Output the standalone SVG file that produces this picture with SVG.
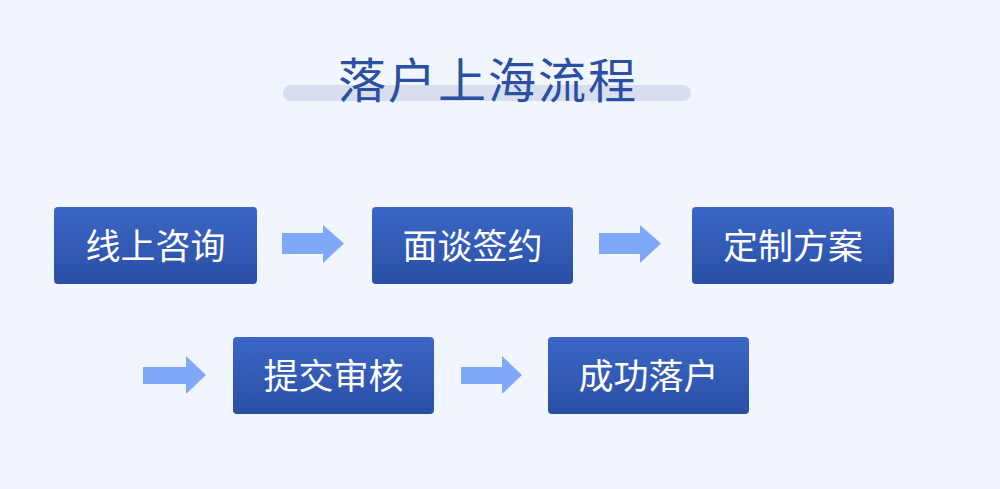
<svg xmlns="http://www.w3.org/2000/svg" width="1000" height="489" viewBox="0 0 1000 489">
<defs>
<linearGradient id="g" x1="0" y1="0" x2="0" y2="1">
<stop offset="0" stop-color="#3c67c6"/>
<stop offset="1" stop-color="#2a4ea5"/>
</linearGradient>
<style>
.box{fill:url(#g);}
.lbl{font-family:"Noto Sans CJK SC","Noto Sans",sans-serif;font-size:35px;fill:#ffffff;text-anchor:middle;dominant-baseline:central;}
.arr{fill:#7fa8f8;}
.title{font-family:"Noto Sans CJK SC","Noto Sans",sans-serif;font-size:48px;fill:#2a4fa3;text-anchor:middle;letter-spacing:2px;}
</style>
</defs>
<rect width="1000" height="489" fill="#f1f6fe"/>
<g id="title">
<rect x="283" y="85" width="408" height="16" rx="8" fill="#d6deef"/>
<text class="title" x="488" y="98">落户上海流程</text>
</g>
<g id="connectors">
<polygon class="arr" points="282,233 323,233 323,225 344,243.5 323,263 323,254 282,254"/>
<polygon class="arr" points="599,233 640,233 640,225 661,243.5 640,263 640,254 599,254"/>
<polygon class="arr" points="143,367 186,367 186,356 206,375 186,394 186,384 143,384"/>
<polygon class="arr" points="461,367 502,367 502,356 522,375 502,394 502,384 461,384"/>
</g>
<g id="n1"><rect class="box" x="54" y="207" width="203" height="77" rx="4"/><text class="lbl" x="155.5" y="243">线上咨询</text></g>
<g id="n2"><rect class="box" x="372" y="207" width="201" height="77" rx="4"/><text class="lbl" x="472.5" y="243">面谈签约</text></g>
<g id="n3"><rect class="box" x="692" y="207" width="202" height="77" rx="4"/><text class="lbl" x="793" y="243">定制方案</text></g>
<g id="n4"><rect class="box" x="233" y="337" width="201" height="77" rx="4"/><text class="lbl" x="333.5" y="373">提交审核</text></g>
<g id="n5"><rect class="box" x="548" y="337" width="201" height="77" rx="4"/><text class="lbl" x="648.5" y="373">成功落户</text></g>
</svg>
